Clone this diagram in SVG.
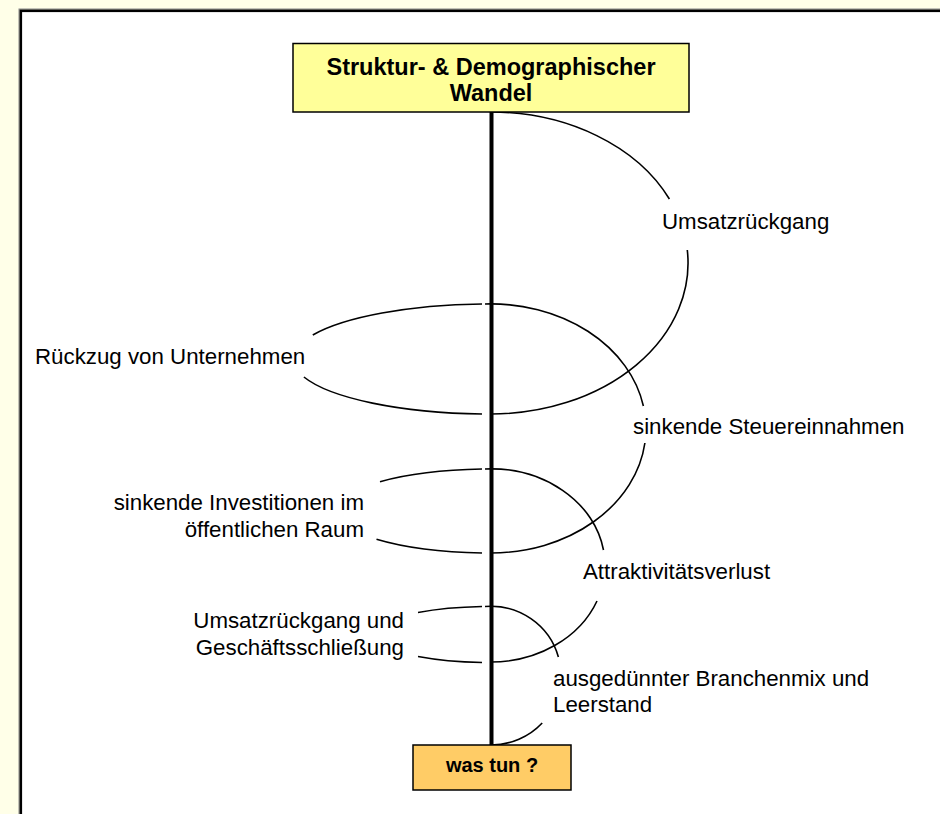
<svg xmlns="http://www.w3.org/2000/svg" width="940" height="814" viewBox="0 0 940 814">
<style>
.lbl{font-family:"Liberation Sans",Arial,sans-serif;font-size:22.3px;fill:#000}
.bold{font-family:"Liberation Sans",Arial,sans-serif;font-weight:bold;fill:#000;text-anchor:middle}
.arc{fill:none;stroke:#000;stroke-width:1.6}
</style>
<rect x="0" y="0" width="940" height="814" fill="#FFFFE8"/>
<rect x="19" y="9" width="1000" height="1000" fill="none" stroke="#888" stroke-width="1"/>
<rect x="20.8" y="10.8" width="1000" height="1000" fill="#fff" stroke="#000" stroke-width="2.6"/>
<g id="connectors">
<line x1="491.5" y1="112" x2="491.5" y2="745" stroke="#000" stroke-width="4"/>
<path class="arc" d="M491,112 A197,151 0 0 1 669.4,199"/>
<path class="arc" d="M687.3,250 A197,151 0 0 1 491,414"/>
<path class="arc" d="M482,414 A198,55 0 0 1 303.9,377"/>
<path class="arc" d="M312.8,335 A198,55 0 0 1 482,304"/>
<path class="arc" d="M485,304 A155,124.5 0 0 1 643.4,406"/>
<path class="arc" d="M644.9,443 A155,124.5 0 0 1 491,553"/>
<path class="arc" d="M482,553 A155,42 0 0 1 376.5,539.3"/>
<path class="arc" d="M380,481.7 A155,42 0 0 1 482,469"/>
<path class="arc" d="M485,469 A114,96.5 0 0 1 603.5,550"/>
<path class="arc" d="M597,601 A114,96.5 0 0 1 491,662"/>
<path class="arc" d="M482,662.5 A118,28 0 0 1 418,656.5"/>
<path class="arc" d="M418,612.5 A118,28 0 0 1 482,606.5"/>
<path class="arc" d="M485,606.5 A70,69.25 0 0 1 558.4,657"/>
<path class="arc" d="M542.2,723 A70,69.25 0 0 1 491,745"/>
</g>
<g id="top">
<rect x="293" y="43.5" width="396" height="68.5" fill="#FFFF99" stroke="#000" stroke-width="1.5"/>
<text class="bold" x="491" y="75" font-size="23.5">Struktur- &amp; Demographischer</text>
<text class="bold" x="491" y="101" font-size="23.5">Wandel</text>
</g>
<g id="bottom">
<rect x="413" y="745" width="158" height="45" fill="#FFCC66" stroke="#000" stroke-width="1.5"/>
<text class="bold" x="492" y="771.5" font-size="20">was tun ?</text>
</g>
<g id="n1"><text class="lbl" x="662" y="228.5">Umsatzrückgang</text></g>
<g id="n2"><text class="lbl" x="35" y="364">Rückzug von Unternehmen</text></g>
<g id="n3"><text class="lbl" x="633" y="434">sinkende Steuereinnahmen</text></g>
<g id="n4"><text class="lbl" text-anchor="end" x="364" y="510">sinkende Investitionen im</text><text class="lbl" text-anchor="end" x="364" y="537">öffentlichen Raum</text></g>
<g id="n5"><text class="lbl" x="583" y="578.5">Attraktivitätsverlust</text></g>
<g id="n6"><text class="lbl" text-anchor="end" x="404" y="628">Umsatzrückgang und</text><text class="lbl" text-anchor="end" x="404" y="655">Geschäftsschließung</text></g>
<g id="n7"><text class="lbl" x="553" y="686">ausgedünnter Branchenmix und</text><text class="lbl" x="553" y="712">Leerstand</text></g>
</svg>
